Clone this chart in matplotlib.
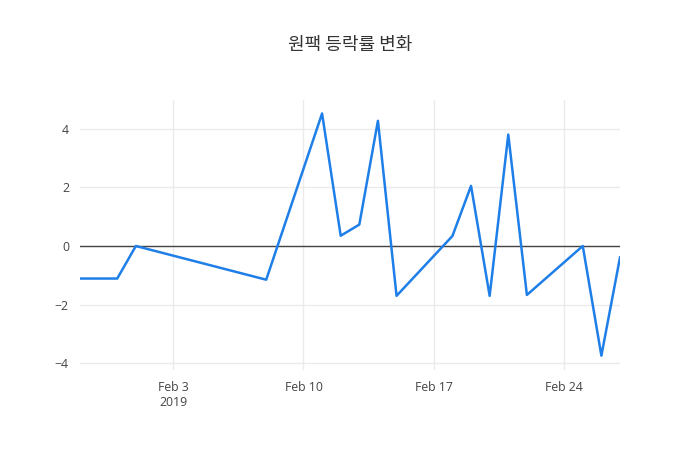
import numpy as np
import pandas as pd
import matplotlib
matplotlib.use("Agg")
import matplotlib.pyplot as plt

# daily change (%)
dates = ["2019-01-29", "2019-01-31", "2019-02-01", "2019-02-08", "2019-02-11",
         "2019-02-12", "2019-02-13", "2019-02-14", "2019-02-15", "2019-02-18",
         "2019-02-19", "2019-02-20", "2019-02-21", "2019-02-22", "2019-02-25",
         "2019-02-26", "2019-02-27"]
change = [-1.11, -1.11, 0.0, -1.15, 4.52, 0.35, 0.73, 4.27, -1.70, 0.34,
          2.05, -1.70, 3.80, -1.67, 0.0, -3.74, -0.39]
tick_dates = ["2019-02-03", "2019-02-10", "2019-02-17", "2019-02-24"]
tick_labels = ["Feb 3\n2019", "Feb 10", "Feb 17", "Feb 24"]
y_ticks = [-4, -2, 0, 2, 4]

x = pd.to_datetime(dates)

plt.rcParams['font.family'] = ['Open Sans', 'Noto Sans CJK KR', 'DejaVu Sans']

fig = plt.figure(figsize=(7, 4.5), dpi=100)
ax = fig.add_axes([80 / 700, 80 / 450, 540 / 700, 270 / 450])

ax.plot(x, change, color="#1f7fe8", linewidth=1.8, zorder=3)
ax.axhline(0, color="#444444", linewidth=1, zorder=2)

ax.set_xlim(x[0], x[-1])
ax.set_ylim(-4.23, 4.98)
ax.set_xticks(pd.to_datetime(tick_dates))
ax.set_xticklabels(tick_labels)
ax.set_yticks(y_ticks)
ax.set_yticklabels(["\u22124", "\u22122", "0", "2", "4"])

ax.grid(True, color="#ebebeb", linewidth=1, zorder=0)
ax.tick_params(length=0, labelsize=8.8, labelcolor="#444444", pad=8)
for s in ax.spines.values():
    s.set_visible(False)

fig.text(0.5, 1 - 45 / 450, "원팩 등락률 변화", ha="center", va="center",
         fontsize=13, color="#333333",
         family=['Noto Sans CJK KR', 'DejaVu Sans'])

fig.savefig("out.png", dpi=100)
